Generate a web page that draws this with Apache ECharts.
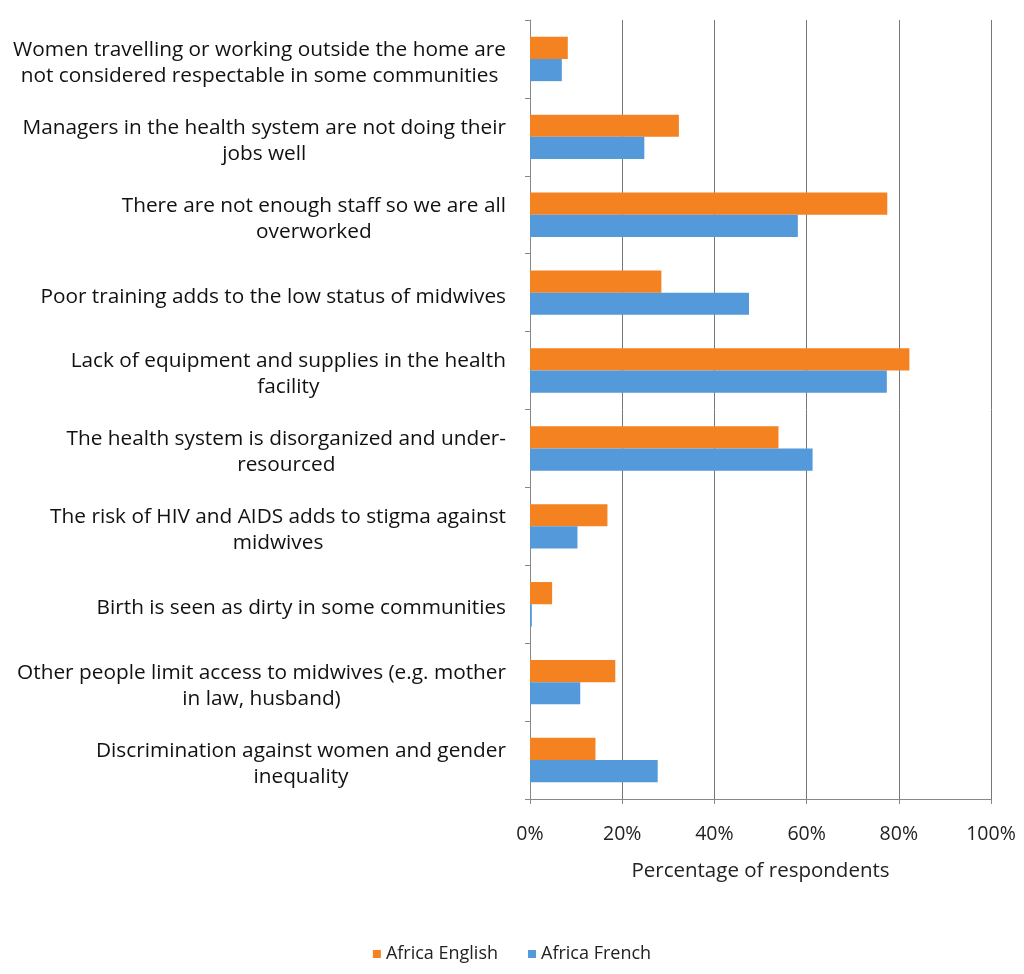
<!DOCTYPE html>
<html>
<head>
<meta charset="utf-8">
<script src="https://cdn.jsdelivr.net/npm/echarts@6/dist/echarts.min.js"></script>
<style>html,body{margin:0;padding:0;background:#fff;}#c{width:1024px;height:974px;}</style>
</head>
<body>
<div id="c"></div>
<script>
const categories = [
  "Women travelling or working outside the home are\nnot considered respectable in some communities",
  "Managers in the health system are not doing their\njobs well",
  "There are not enough staff so we are all\noverworked",
  "Poor training adds to the low status of midwives",
  "Lack of equipment and supplies in the health\nfacility",
  "The health system is disorganized and under-\nresourced",
  "The risk of HIV and AIDS adds to stigma against\nmidwives",
  "Birth is seen as dirty in some communities",
  "Other people limit access to midwives (e.g. mother\nin law, husband)",
  "Discrimination against women and gender\ninequality"
];
const africaEnglish = [8.2, 32.3, 77.5, 28.5, 82.3, 53.9, 16.8, 4.8, 18.5, 14.2];
const africaFrench  = [6.9, 24.8, 58.1, 47.5, 77.4, 61.3, 10.3, 0.4, 10.9, 27.7];
const xTicks = [0, 20, 40, 60, 80, 100];

const FONT = 'Open Sans';
const chart = echarts.init(document.getElementById('c'), null, {renderer: 'canvas'});
chart.setOption({
  backgroundColor: '#ffffff',
  animation: false,
  grid: {left: 530, right: 33, top: 20, bottom: 175, containLabel: false},
  legend: {
    bottom: 6,
    left: 'center',
    itemWidth: 8, itemHeight: 8, itemGap: 30,
    icon: 'rect',
    textStyle: {fontFamily: FONT, fontSize: 18, color: '#222'},
    data: ['Africa English', 'Africa French']
  },
  xAxis: {
    type: 'value',
    min: xTicks[0], max: xTicks[xTicks.length - 1], interval: 20,
    name: 'Percentage of respondents',
    nameLocation: 'middle',
    nameGap: 62,
    nameTextStyle: {fontFamily: FONT, fontSize: 20.5, color: '#222'},
    axisLine: {show: true, lineStyle: {color: '#888', width: 1}},
    axisTick: {show: true, length: 5, lineStyle: {color: '#888'}},
    axisLabel: {formatter: '{value}%', fontFamily: FONT, fontSize: 19.5, color: '#222', margin: 25},
    splitLine: {show: true, lineStyle: {color: '#777', width: 1}}
  },
  yAxis: {
    type: 'category',
    inverse: true,
    data: categories,
    axisLine: {show: true, lineStyle: {color: '#888', width: 1}},
    axisTick: {show: true, length: 5, alignWithLabel: false, lineStyle: {color: '#888'}},
    axisLabel: {
      margin: 24,
      align: 'right',
      padding: [8, 0, 0, 0],
      fontFamily: FONT, fontSize: 20.8, color: '#111', lineHeight: 26,
      formatter: function (v) {
        return v.split('\n').map(function (l) { return '{c|' + l + '}'; }).join('\n');
      },
      rich: {c: {align: 'center', fontFamily: FONT, fontSize: 20.8, color: '#111', lineHeight: 26}}
    },
    splitLine: {show: false}
  },
  series: [
    {name: 'Africa English', type: 'bar', data: africaEnglish, barGap: '0%', barCategoryGap: '43%',
     itemStyle: {color: '#F58220'}},
    {name: 'Africa French', type: 'bar', data: africaFrench, barGap: '0%', barCategoryGap: '43%',
     itemStyle: {color: '#5499DA'}}
  ]
});
</script>
</body>
</html>
